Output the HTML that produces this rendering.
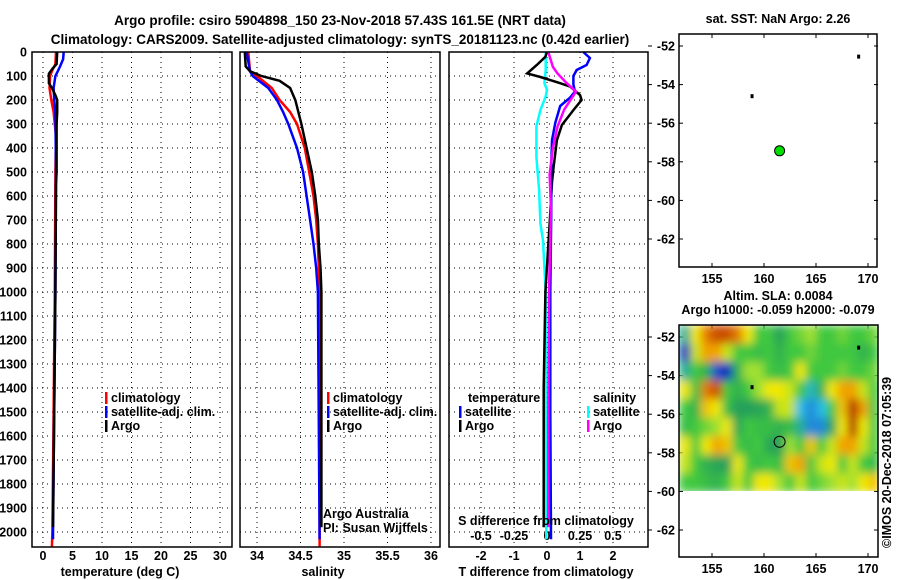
<!DOCTYPE html>
<html><head><meta charset="utf-8">
<style>
html,body{margin:0;padding:0;background:#fff;}
svg{display:block;font-family:"Liberation Sans",Arial,sans-serif;}
.b{font-weight:bold;font-size:12.5px;}
.t{font-weight:bold;font-size:13.5px;}
</style></head>
<body>
<svg id="chart" width="900" height="580" viewBox="0 0 900 580">
<defs>
<filter id="blur" x="0" y="0" width="1" height="1"><feGaussianBlur stdDeviation="4.5" edgeMode="duplicate"/></filter>
<clipPath id="mapclip"><rect x="679" y="325" width="199" height="166"/></clipPath>
</defs>
<text class="t" x="340" y="25" text-anchor="middle">Argo profile: csiro 5904898_150 23-Nov-2018 57.43S 161.5E (NRT data)</text>
<text class="t" x="340" y="44" text-anchor="middle">Climatology: CARS2009. Satellite-adjusted climatology: synTS_20181123.nc (0.42d earlier)</text>
<g id="g"></g>
</svg>
<script>
// ---------- data ----------
var depthTicks = [0,100,200,300,400,500,600,700,800,900,1000,1100,1200,1300,1400,1500,1600,1700,1800,1900,2000];
var tempTicks = [0,5,10,15,20,25,30];
var salTicks = [34,34.5,35,35.5,36];
var salTickLabels = ["34","34.5","35","35.5","36"];
var tdTicks = [-2,-1,0,1,2];
var sdTicks = [-0.5,-0.25,0,0.25,0.5];
var sdTickLabels = ["-0.5","-0.25","0","0.25","0.5"];
var latTicks = [-52,-54,-56,-58,-60,-62];
var lonTicks = [155,160,165,170];

var tArgoDepth = [0,50,70,90,130,150,180,200,250,300,500,550,1000,1500,1980];
var tArgo      = [2.4,2.3,1.6,1.0,1.0,1.5,2.1,2.4,2.4,2.3,2.3,2.2,2.1,1.9,1.7];
var tClimDepth = [0,50,80,100,150,200,250,300,350,500,1000,1500,2000,2060];
var tClim      = [2.2,2.1,1.5,1.2,1.1,1.4,1.8,2.0,2.2,2.1,2.0,1.8,1.6,1.5];
var tSatDepth  = [0,30,60,80,100,150,200,250,500,1000,1500,2000,2030];
var tSat       = [3.5,3.4,2.9,2.5,2.1,1.8,1.9,2.1,2.2,2.1,1.9,1.7,1.7];

var sArgoDepth = [0,60,80,100,120,150,200,300,400,500,600,700,800,900,1000,1500,1980];
var sArgo      = [33.86,33.87,33.92,34.05,34.26,34.38,34.44,34.51,34.57,34.63,34.67,34.70,34.71,34.73,34.74,34.74,34.74];
var sClimDepth = [0,80,100,150,200,250,300,400,500,600,700,800,900,1000,2060];
var sClim      = [33.90,33.92,34.0,34.17,34.26,34.38,34.46,34.55,34.60,34.65,34.68,34.70,34.71,34.72,34.72];
var sSatDepth  = [0,80,100,150,200,250,300,400,500,600,700,800,900,1000,2030];
var sSat       = [33.88,33.92,33.95,34.13,34.23,34.30,34.36,34.46,34.53,34.57,34.61,34.65,34.68,34.70,34.72];

var dtArgoDepth = [0,20,54,89,104,130,144,179,200,242,304,367,479,542,671,1000,1400,1980];
var dtArgo      = [0.0,-0.05,-0.31,-0.6,-0.2,0.4,0.7,1.0,1.05,0.8,0.45,0.3,0.2,0.15,0.1,-0.05,-0.1,-0.1];
var dtSatDepth  = [0,25,54,75,100,136,165,190,225,295,367,508,650,1000,1500,2030];
var dtSat       = [1.1,1.3,1.2,0.9,0.8,0.8,0.85,0.7,0.4,0.25,0.15,0.12,0.13,0.1,0.1,0.12];
var dsSatDepth  = [0,75,130,157,185,242,310,437,576,715,785,1000,1500,2030];
var dsSat       = [-0.01,-0.01,-0.02,0.0,-0.01,-0.05,-0.08,-0.08,-0.06,-0.05,-0.03,-0.01,-0.01,-0.005];
var dsArgoDepth = [0,62,90,130,165,190,240,310,400,510,650,1000,1500,1980];
var dsArgo      = [0.01,0.045,0.08,0.15,0.22,0.19,0.13,0.08,0.045,0.02,0.03,0.015,0.01,0.01];

var argoLon = 161.5, argoLat = -57.43;
var islandLon = [169.1,158.85];
var islandLat = [-52.55,-54.6];

var slaGrid = [
[-0.5,0.4,0.7,0.8,0.8,0.7,0.4,0,0,-0.35,0,0.1,0.2,0,0,0.1,0,0,0.1],
[-1,0.3,0.6,0.6,0.3,0,0,-0.1,0,-0.2,0,0,0.1,0,0,0,0,-0.2,0],
[-0.5,0,-0.2,-0.9,-1,-0.2,0.2,0.2,0,-0.1,0,0.4,0,0,0,0.1,0,0,0.1],
[0.4,-0.1,0.7,0.8,0,-0.2,0,0.2,0.4,0.4,0.3,0,-0.6,-0.2,0.4,0.6,0.6,0.3,0],
[0,-0.2,0.5,0.4,-0.1,-0.35,-0.35,-0.3,-0.2,0.3,0.3,-0.7,-0.8,-0.7,0,0.5,0.9,0.6,0],
[-0.1,0,0.1,0.2,0.4,-0.3,0,-0.1,-0.1,-0.2,-0.1,-0.5,-0.8,-0.8,-0.3,0.4,0.9,0.4,0],
[0.4,0,0.4,0.6,0.5,0,-0.1,0,-0.3,-0.35,0.2,0,0.5,0,0.3,0.6,0.6,0.3,0],
[0.3,0,-0.2,-0.3,-0.35,0.4,0,-0.1,0,-0.1,0.5,0.6,0,0.3,0.4,0,0.3,0,-0.1],
[0,0,-0.1,-0.2,0,0.3,0,0.4,0.4,0.2,0,0.3,0,0.1,0.2,0.3,0.2,0.4,0.5]
];

// ---------- helpers ----------
var NS="http://www.w3.org/2000/svg";
var G=document.getElementById('g');
function el(tag,attrs,parent){var e=document.createElementNS(NS,tag);for(var k in attrs)e.setAttribute(k,attrs[k]);(parent||G).appendChild(e);return e;}
function txt(x,y,s,cls,anchor,parent){var e=el('text',{x:x,y:y,'class':cls||'b','text-anchor':anchor||'start'},parent);e.textContent=s;return e;}

var Y=function(d){return 52+d*0.24;};
var PT=function(t){return 43+t*5.9;};
var PS=function(s){return 257+(s-34)*87;};
var PD=function(t){return 547+t*33;};
var PDS=function(s){return 547+s*132;};
var panels=[[32,232],[240,440],[449,648]];
var TOP=52,BOT=547;

// grid
panels.forEach(function(p,i){
  depthTicks.forEach(function(d){ if(d===0)return;
    var l=el('line',{x1:p[0],x2:p[1],y1:Y(d),y2:Y(d),stroke:'#000','stroke-width':1,'stroke-dasharray':'1,4'});
    
    
  });
});
tempTicks.forEach(function(t){var l=el('line',{x1:PT(t),x2:PT(t),y1:TOP,y2:BOT,stroke:'#000','stroke-dasharray':'1,4'});
  
  var e=txt(PT(t),560,String(t),'b','middle');});
salTicks.forEach(function(s,i){var l=el('line',{x1:PS(s),x2:PS(s),y1:TOP,y2:BOT,stroke:'#000','stroke-dasharray':'1,4'});
  
  var e=txt(PS(s),560,salTickLabels[i],'b','middle');});
tdTicks.forEach(function(t){var l=el('line',{x1:PD(t),x2:PD(t),y1:TOP,y2:BOT,stroke:'#000','stroke-dasharray':'1,4'});
  
  var e=txt(PD(t),560,(t<0?'-':'')+Math.abs(t),'b','middle');});
sdTicks.forEach(function(s,i){var l=el('line',{x1:PDS(s),x2:PDS(s),y1:TOP,y2:BOT,stroke:'#000','stroke-dasharray':'1,4'});
  
  var e=txt(PDS(s),540,sdTickLabels[i],'b','middle');});
depthTicks.forEach(function(d){var e=txt(27,Y(d)+4.5,String(d),'b','end');
  });

// profiles
function line(xs,ds,fx,color,name){
  var pts=[];for(var i=0;i<xs.length;i++){pts.push(fx(xs[i]).toFixed(1)+','+Y(ds[i]).toFixed(1));}
  var p=el('polyline',{points:pts.join(' '),fill:'none',stroke:color,'stroke-width':2.5,'stroke-linejoin':'miter'});
  
  
}
line(tClim,tClimDepth,PT,'#ff0000','temp-climatology-line');
line(tSat,tSatDepth,PT,'#0000ff','temp-satellite-line');
line(tArgo,tArgoDepth,PT,'#000','temp-argo-line');
line(sClim,sClimDepth,PS,'#ff0000','sal-climatology-line');
line(sSat,sSatDepth,PS,'#0000ff','sal-satellite-line');
line(sArgo,sArgoDepth,PS,'#000','sal-argo-line');
line(dsSat,dsSatDepth,PDS,'#00ffff','sdiff-satellite-line');
line(dtArgo,dtArgoDepth,PD,'#000','tdiff-argo-line');
line(dtSat,dtSatDepth,PD,'#0000ff','tdiff-satellite-line');
line(dsArgo,dsArgoDepth,PDS,'#ff00ff','sdiff-argo-line');

// panel frames
panels.forEach(function(p,i){var r=el('rect',{x:p[0],y:TOP,width:p[1]-p[0],height:BOT-TOP,fill:'none',stroke:'#000','stroke-width':1.5});
  });

// axis titles
[[120,'temperature (deg C)'],[323,'salinity'],[546,'T difference from climatology']].forEach(function(a){
  var e=txt(a[0],576,a[1],'b','middle');});
var sdt=txt(546,525,'S difference from climatology','b','middle');


// legends
function legend(x,y,color,label){
  var r=el('rect',{x:x,y:y-10,width:2.5,height:12,fill:color});
  
  var t=txt(x+6,y,label,'b','start');
}
legend(105,402,'#ff0000','climatology');legend(105,416,'#0000ff','satellite-adj. clim.');legend(105,430,'#000','Argo');
legend(327,402,'#ff0000','climatology');legend(327,416,'#0000ff','satellite-adj. clim.');legend(327,430,'#000','Argo');
var lt=txt(468,402,'temperature','b','start');
legend(459,416,'#0000ff','satellite');legend(459,430,'#000','Argo');
var ls=txt(593,402,'salinity','b','start');
legend(587,416,'#00ffff','satellite');legend(587,430,'#ff00ff','Argo');
var a1=txt(323,518,'Argo Australia','', 'start');a1.setAttribute('font-size','11.5');
var a2=txt(323,532,'PI: Susan Wijffels','', 'start');a2.setAttribute('font-size','11.5');

// ---------- maps ----------
function mapAxes(top,bottom,lat52y,titleLines,name){
  var MX=function(lon){return 712+(lon-155)*10.4;};
  var MY=function(lat){return lat52y+(-52-lat)*19.3;};
  latTicks.forEach(function(l){
    var e=txt(675,MY(l)+4.5,String(l),'b','end');
    el('line',{x1:648,x2:652,y1:MY(l),y2:MY(l),stroke:'#000'});
    el('line',{x1:679,x2:683,y1:MY(l),y2:MY(l),stroke:'#000'});
    el('line',{x1:874,x2:878,y1:MY(l),y2:MY(l),stroke:'#000'});
  });
  lonTicks.forEach(function(l){
    var e=txt(MX(l),bottom+16,String(l),'b','middle');
    el('line',{x1:MX(l),x2:MX(l),y1:top,y2:top+4,stroke:'#000'});
    el('line',{x1:MX(l),x2:MX(l),y1:bottom-4,y2:bottom,stroke:'#000'});
  });
  titleLines.forEach(function(s,i){var e=txt(778,top-(titleLines.length-i)*14+3,s,'b','middle');
    });
  return {MX:MX,MY:MY};
}
// top map
var m1=mapAxes(34,267,46,['sat. SST: NaN Argo: 2.26'],'sst-map');
islandLon.forEach(function(lo,i){var d=el('rect',{x:m1.MX(lo)-1.5,y:m1.MY(islandLat[i])-2,width:3,height:4,fill:'#000'});
  });
var gc=el('circle',{cx:m1.MX(argoLon),cy:m1.MY(argoLat),r:5,fill:'#00dd00',stroke:'#000','stroke-width':1});

var f1=el('rect',{x:679,y:34,width:198,height:233,fill:'none',stroke:'#000','stroke-width':1.5});


// bottom map
var m2=mapAxes(325,557,337,['Altim. SLA: 0.0084','Argo h1000: -0.059 h2000: -0.079'],'sla-map');
function cmap(v){
  var stops=[[-1,[16,32,190]],[-0.7,[40,190,230]],[-0.35,[40,160,90]],[0,[64,200,64]],[0.2,[160,224,48]],[0.4,[240,232,0]],[0.65,[240,144,0]],[0.9,[176,32,0]]];
  if(v<=stops[0][0])return 'rgb('+stops[0][1]+')';
  for(var i=1;i<stops.length;i++){if(v<=stops[i][0]){var a=stops[i-1],b=stops[i],f=(v-a[0])/(b[0]-a[0]);
    return 'rgb('+[0,1,2].map(function(k){return Math.round(a[1][k]+f*(b[1][k]-a[1][k]));}).join(',')+')';}}
  return 'rgb('+stops[stops.length-1][1]+')';
}
var hg=el('g',{'clip-path':'url(#mapclip)'});


var inner=el('g',{filter:'url(#blur)'},hg);
el('rect',{x:679,y:325,width:199,height:166,fill:cmap(0)},inner);
var lon0=151.92,dlon=1.007,lat0=-51.375,dlat=0.961;
slaGrid.forEach(function(row,r){row.forEach(function(v,c){
  var x=m2.MX(lon0+c*dlon),y=m2.MY(lat0-r*dlat);
  var cell=el('rect',{x:x,y:y,width:11,height:dlat*19.3+0.5,fill:cmap(v)},inner);
  
  
});});
islandLon.forEach(function(lo,i){var d=el('rect',{x:m2.MX(lo)-1.5,y:m2.MY(islandLat[i])-2,width:3,height:4,fill:'#000'});
  });
var oc=el('circle',{cx:m2.MX(argoLon),cy:m2.MY(argoLat),r:5.5,fill:'none',stroke:'#000','stroke-width':1});

var f2=el('rect',{x:679,y:325,width:199,height:232,fill:'none',stroke:'#000','stroke-width':1.5});


var st=txt(0,0,'\u00a9IMOS 20-Dec-2018 07:05:39','','start');
st.setAttribute('transform','translate(891,548) rotate(-90)');
st.setAttribute('font-size','12.5');


</script>
</body></html>
